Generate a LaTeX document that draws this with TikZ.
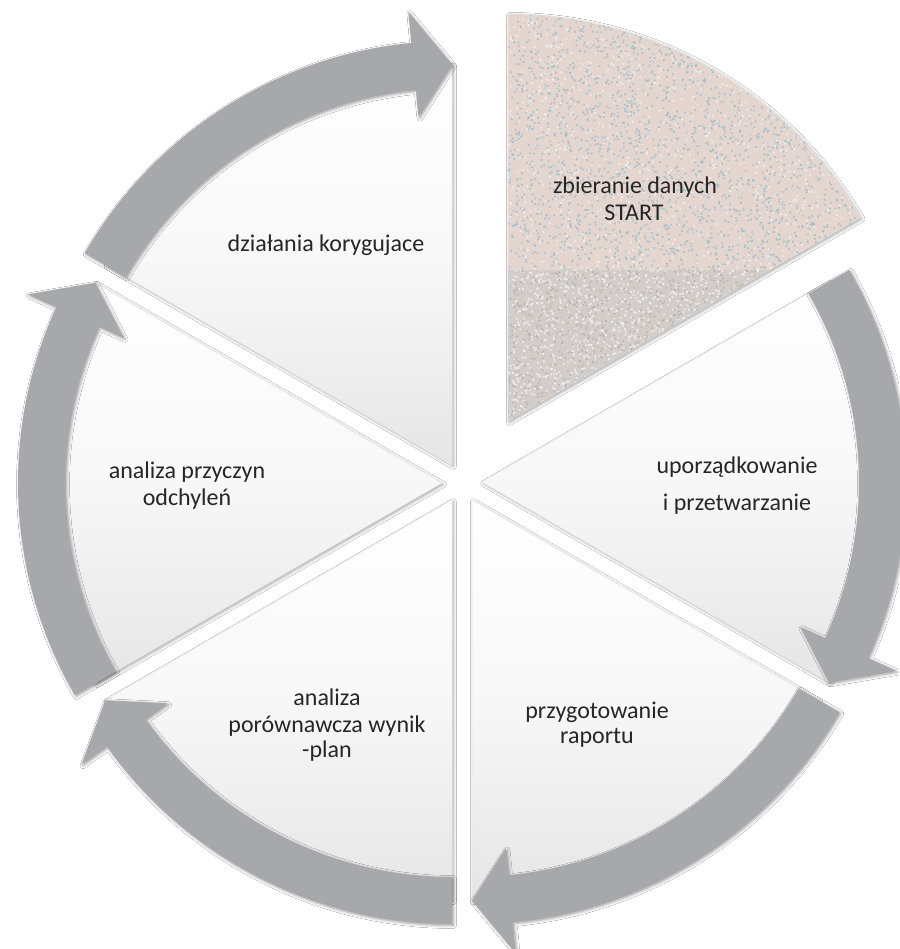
\documentclass[tikz,border=0pt]{standalone}
\usepackage{fontspec}
\setmainfont{Carlito}
\usetikzlibrary{shadows.blur}
\definecolor{arrowgray}{HTML}{A7A8AC}
\definecolor{txt}{HTML}{262626}
\definecolor{startpink}{HTML}{E4D5CF}
\definecolor{startblue}{HTML}{5FA9C4}
\definecolor{startgray}{HTML}{D3CDCA}
\definecolor{specklegray}{HTML}{A39D99}
\newcommand\cyclwedge[3]{% apex, start angle, radius
  \pgfmathsetmacro\wend{#2+60}%
  \path[wedgebox] (#1) -- ++(#2:#3) arc[start angle=#2, end angle=\wend, radius=#3] -- cycle;}
\newcommand\cyclarrow[2]{% apex, head angle
  \pgfmathsetmacro\hb{#2+5.5}%
  \pgfmathsetmacro\tl{#2+60}%
  \path[cyclearrow, shift={(#1)}] (\tl:424pt) arc[start angle=\tl, end angle=\hb, radius=424pt]
    -- (\hb:455pt) -- (#2:400.5pt) -- (\hb:350pt) -- (\hb:377pt)
    arc[start angle=\hb, end angle=\tl, radius=377pt] -- cycle;}
\begin{document}
\begin{tikzpicture}[x=1pt,y=1pt,
  wedgebox/.style={top color=white, bottom color=black!10, middle color=black!3, draw=black!9, line width=0.5pt,
    blur shadow={shadow xshift=1.5pt, shadow yshift=-1.5pt, shadow blur radius=3pt, shadow opacity=35}},
  cyclearrow/.style={fill=arrowgray,
    blur shadow={shadow xshift=1.5pt, shadow yshift=-1.5pt, shadow blur radius=3pt, shadow opacity=40}},
  lbl/.style={anchor=base, font=\fontsize{24}{29}\selectfont, text=txt, inner sep=0pt}]
\useasboundingbox (0,0) rectangle (899,-949);
\fill[white] (0,0) rectangle (899,-949);
% apexes of the six sectors
\coordinate (c1) at (508,-421);   % zbieranie danych START
\coordinate (c2) at (482,-482);   % uporzadkowanie
\coordinate (c3) at (472,-500);   % przygotowanie raportu
\coordinate (c4) at (452,-500);   % analiza porownawcza
\coordinate (c5) at (442,-483);   % analiza przyczyn
\coordinate (c6) at (452,-465);   % dzialania korygujace
% wedges
\cyclwedge{c2}{-30}{400pt}
\cyclwedge{c3}{-90}{400pt}
\cyclwedge{c4}{-150}{400pt}
\cyclwedge{c5}{150}{400pt}
\cyclwedge{c6}{90}{400pt}
% START wedge with texture
\path[fill=startpink, draw=black!10, line width=0.5pt,
  blur shadow={shadow xshift=1.5pt, shadow yshift=-1.5pt, shadow blur radius=3pt, shadow opacity=35}]
  (c1) -- ++(30:407pt) arc[start angle=30, end angle=90, radius=407pt] -- cycle;
\begin{scope}
  \clip (c1) -- ++(30:407pt) arc[start angle=30, end angle=90, radius=407pt] -- cycle;
  \fill[startgray] (500,-270) rectangle (870,-430);
  \pgfmathsetseed{7}
  \fill[startblue, opacity=0.45] \foreach \i in {1,...,2600}{
    ({508+360*rnd},{-15-255*rnd}) rectangle ++(1.7,1.7)};
  \fill[white, opacity=0.5] \foreach \i in {1,...,1100}{
    ({508+360*rnd},{-15-255*rnd}) rectangle ++(1.8,1.8)};
  \fill[white, opacity=0.6] \foreach \i in {1,...,1400}{
    ({508+250*rnd},{-270-152*rnd}) rectangle ++(1.8,1.8)};
  \fill[specklegray, opacity=0.5] \foreach \i in {1,...,1100}{
    ({508+250*rnd},{-270-152*rnd}) rectangle ++(1.6,1.6)};
\end{scope}
% arrows
\cyclarrow{c2}{-30}
\cyclarrow{c3}{-90}
\cyclarrow{c4}{-150}
\cyclarrow{c5}{150}
\cyclarrow{c6}{90}
% labels
\node[lbl] (t1a) at (635,-194) {zbieranie danych};
\node[lbl] (t1b) at (634,-221) {START};
\node[lbl] (t2a) at (737,-473) {uporządkowanie};
\node[lbl] (t2b) at (737,-510) {i przetwarzanie};
\node[lbl] (t3a) at (597,-718) {przygotowanie};
\node[lbl] (t3b) at (597,-743) {raportu};
\node[lbl] (t4a) at (327,-705) {analiza};
\node[lbl] (t4b) at (327,-732) {porównawcza wynik};
\node[lbl] (t4c) at (327,-757) {-plan};
\node[lbl] (t5a) at (187,-478) {analiza przyczyn};
\node[lbl] (t5b) at (187,-505) {odchyleń};
\node[lbl] (t6a) at (326,-252) {działania korygujace};
\end{tikzpicture}
\end{document}
